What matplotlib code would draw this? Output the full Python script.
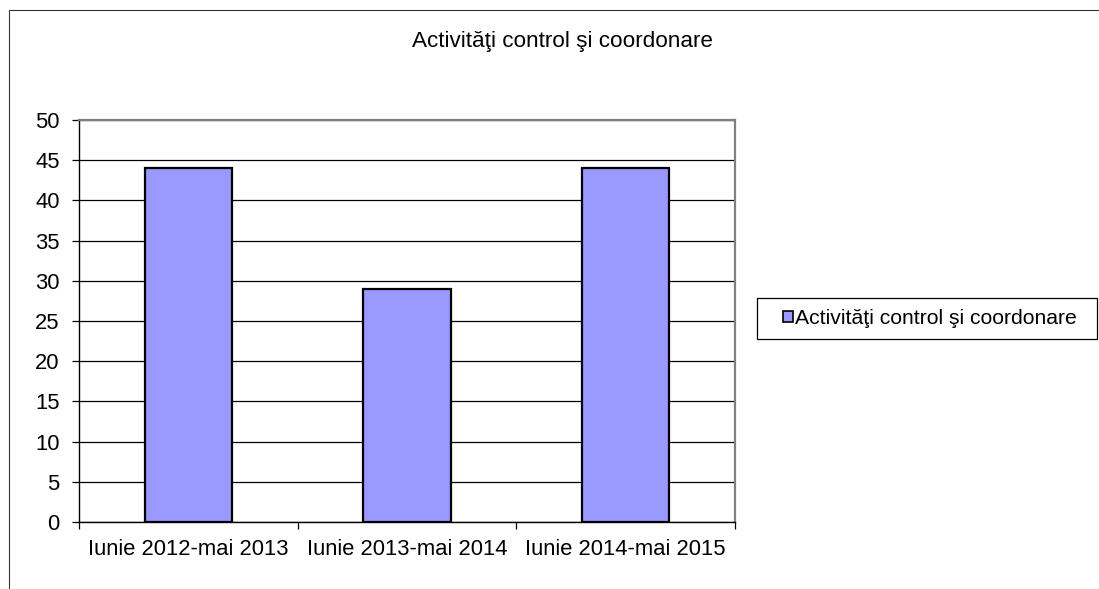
import matplotlib
matplotlib.use("Agg")
import matplotlib.pyplot as plt
from matplotlib.patches import Rectangle, Patch

categories = ["Iunie 2012-mai 2013", "Iunie 2013-mai 2014", "Iunie 2014-mai 2015"]
values = [44, 29, 44]
series_name = "Activităţi control şi coordonare"
title = "Activităţi control şi coordonare"
yticks = list(range(0, 51, 5))

plt.rcParams['font.family'] = ['Liberation Sans', 'DejaVu Sans']

W, H = 1099, 589
fig = plt.figure(figsize=(W / 100, H / 100), dpi=100)

# outer chart border
fig.patches.append(Rectangle((9 / W, -0.05), 1.2, (H - 10) / H + 0.05,
                             transform=fig.transFigure, fill=False,
                             edgecolor='#333333', linewidth=0.8))

ax = fig.add_axes([79 / W, 1 - 522 / H, (735 - 79) / W, (522 - 120) / H])
x = range(len(categories))
ax.bar(x, values, width=0.4, color='#9999ff', edgecolor='black', linewidth=1.6,
       zorder=3)
ax.set_xlim(-0.5, len(categories) - 0.5)
ax.set_ylim(0, 50)
ax.set_yticks(yticks)
ax.set_yticklabels([str(t) for t in yticks], fontsize=15.8)
ax.yaxis.grid(True, color='black', linewidth=0.9, zorder=0)
ax.set_axisbelow(True)

ax.set_xticks(list(x))
ax.set_xticklabels(categories, fontsize=15.8)
ax.tick_params(axis='x', length=0, pad=12)
ax.set_xticks([i - 0.5 for i in range(len(categories) + 1)], minor=True)
ax.tick_params(axis='x', which='minor', length=5, width=0.9, direction='out')
ax.tick_params(axis='y', length=5, width=0.9, direction='out', pad=9)

for s in ['top', 'right']:
    ax.spines[s].set_color('#808080')
    ax.spines[s].set_linewidth(1.6)
for s in ['left', 'bottom']:
    ax.spines[s].set_color('black')
    ax.spines[s].set_linewidth(1.0)

fig.text(562 / W, 1 - 42 / H, title, fontsize=16.2, ha='center', va='center')

# legend frame
fig.patches.append(Rectangle((757 / W, 1 - 339 / H), (1097 - 757) / W, 41 / H,
                             transform=fig.transFigure, fill=False,
                             edgecolor='black', linewidth=0.9))
handle = Patch(facecolor='#9999ff', edgecolor='black', linewidth=1.2)
leg = fig.legend([handle], [series_name], loc='center',
                 bbox_to_anchor=(930 / W, 1 - 318.5 / H), fontsize=15.2,
                 frameon=False, handlelength=0.45, handleheight=0.45,
                 handletextpad=0.1, borderpad=0.2, borderaxespad=0)

fig.savefig("out.png", dpi=100)
